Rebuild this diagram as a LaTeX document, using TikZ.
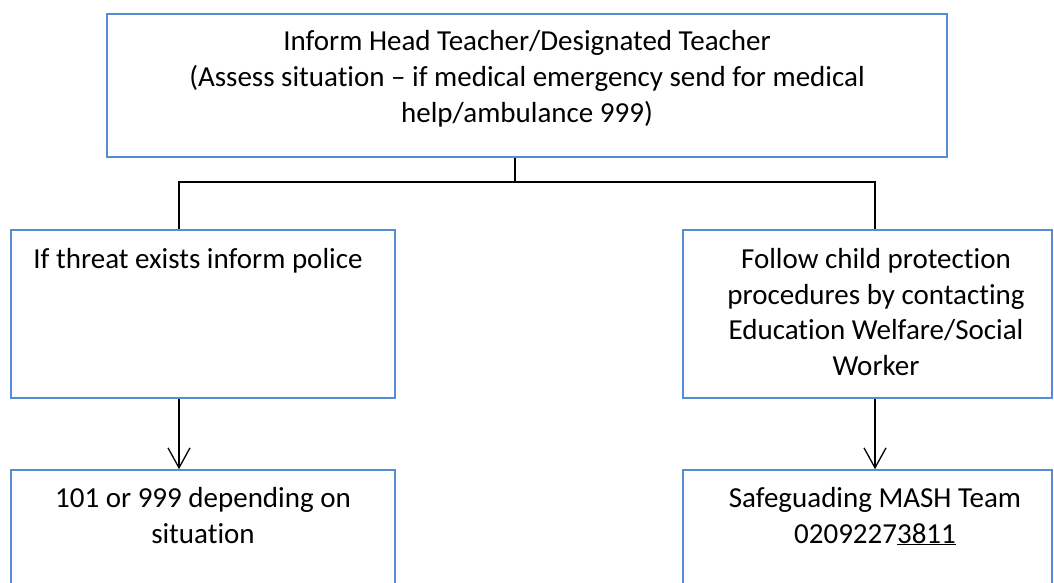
\documentclass[tikz,border=0pt]{standalone}
\usepackage{fontspec}
\setmainfont{Carlito}[Ligatures={NoCommon}]
\usetikzlibrary{arrows.meta}
\definecolor{boxblue}{RGB}{84,141,212}
\begin{document}
\begin{tikzpicture}[x=1pt,y=-1pt,
  box/.style={draw=boxblue, line width=1.6pt, rectangle, inner sep=0pt},
  txt/.style={align=center, font=\fontsize{29}{35.5}\selectfont, inner sep=0pt, anchor=base},
  conn/.style={draw=black, line width=1.3pt},
  arr/.style={conn, -{Straight Barb[length=20pt,width=22pt,line width=1.3pt]}}]
\useasboundingbox (0,0) rectangle (1054,583);
\clip (0,0) rectangle (1054,583);
% boxes
\node[box, minimum width=840pt, minimum height=143pt] (top) at (527,85.5) {};
\node[box, minimum width=384pt, minimum height=168pt] (left) at (203,314) {};
\node[box, minimum width=369pt, minimum height=168pt] (right) at (867.5,314) {};
\node[box, minimum width=384pt, minimum height=150pt] (botleft) at (203,545) {};
\node[box, minimum width=369pt, minimum height=150pt] (botright) at (867.5,545) {};
% texts (anchor = baseline of the last line)
\node[txt] (t1) at (527,122) {Inform Head Teacher/Designated Teacher\\(Assess situation – if medical emergency send for medical\\help/ambulance 999)};
\node[txt] (t2) at (198,268) {If threat exists inform police};
\node[txt] (t3) at (876,375) {Follow child protection\\procedures by contacting\\Education Welfare/Social\\Worker};
\node[txt] (t4) at (203,543) {101 or 999 depending on\\situation};
\node[txt] (t5) at (875,543) {Safeguading MASH Team\\0209227\underline{3811}};
% connectors
\coordinate (j) at (515,182);
\coordinate (lx) at (179,182);
\coordinate (rx) at (875,182);
\draw[conn] (j |- top.south) -- (j);
\draw[conn] (lx |- left.north) -- (lx) -- (rx) -- (rx |- right.north);
\draw[arr] (lx |- left.south) -- (lx |- botleft.north);
\draw[arr] (rx |- right.south) -- (rx |- botright.north);
\end{tikzpicture}
\end{document}
